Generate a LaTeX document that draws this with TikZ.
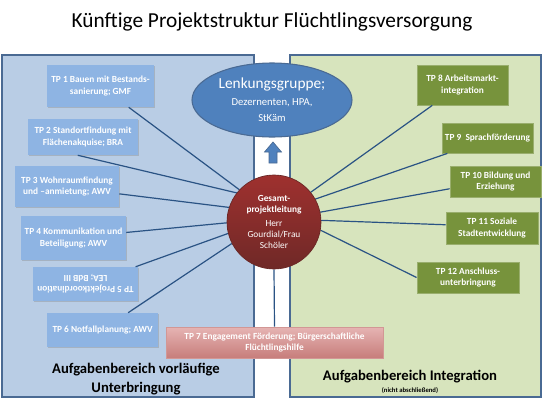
\documentclass[tikz,border=0pt]{standalone}
\usepackage{fontspec}
\setmainfont{Carlito}
\usetikzlibrary{shapes.geometric,shadows}
\definecolor{panelblue}{HTML}{B9CDE5}
\definecolor{panelgreen}{HTML}{D7E4BD}
\definecolor{paneledge}{HTML}{4A6A93}
\definecolor{boxblue}{HTML}{8EB4E3}
\definecolor{boxgreen}{HTML}{77933C}
\definecolor{linkblue}{HTML}{2A5384}
\definecolor{lenkblue}{HTML}{4F81BD}
\definecolor{leitred}{HTML}{943634}
\definecolor{engtop}{HTML}{E6B4B3}
\definecolor{engbot}{HTML}{C77D7B}

\begin{document}
\begin{tikzpicture}[x=0.75pt,y=-0.75pt,
  tpsize/.style 2 args={minimum width=#1*0.75pt,minimum height=#2*0.75pt},
  tpbox/.style={text=white,font=\fontsize{7}{8.4}\selectfont\bfseries,align=center,inner sep=1pt},
  tpleft/.style={tpbox,fill=boxblue,drop shadow={opacity=0.35,shadow xshift=0.4pt,shadow yshift=-0.9pt}},
  tpright/.style={tpbox,fill=boxgreen,draw=boxgreen!75!white,line width=0.6pt},
  link/.style={draw=linkblue,line width=0.9pt}]
\useasboundingbox (0,0) rectangle (543,400);

% Title
\node[font=\fontsize{16}{19}\selectfont] (title) at (272,22) {Künftige Projektstruktur Flüchtlingsversorgung};

% Panels (task areas)
\draw[fill=panelblue,draw=paneledge,line width=0.8pt] (2,55) rectangle (254,397);
\draw[fill=panelgreen,draw=paneledge,line width=0.8pt] (290,55) rectangle (541,397);

% Left boxes (Unterbringung)
\node[tpleft,tpsize={107}{42}] (tp1) at (100.5,86) {TP 1 Bauen mit Bestands-\\sanierung; GMF};
\node[tpleft,tpsize={110}{36}] (tp2) at (83,137) {TP 2 Standortfindung mit\\Flächenakquise; BRA};
\node[tpleft,tpsize={104}{41}] (tp3) at (67,186.5) {TP 3 Wohnraumfindung\\und –anmietung; AWV};
\node[tpleft,tpsize={105}{44}] (tp4) at (73.5,238) {TP 4 Kommunikation und\\Beteiligung; AWV};
\node[tpleft,tpsize={105}{34},rotate=180] (tp5) at (85.5,284) {TP 5 Projektkoordination\\LEA; BdB III};
\node[tpleft,tpsize={111}{34}] (tp6) at (102.5,330) {TP 6 Notfallplanung; AWV};

% Right boxes (Integration)
\node[tpright,tpsize={91}{40}] (tp8) at (462.5,85) {TP 8 Arbeitsmarkt-\\integration};
\node[tpright,tpsize={91}{30}] (tp9) at (487.5,138) {TP 9\ \ Sprachförderung};
\node[tpright,tpsize={91}{31}] (tp10) at (495.5,181.5) {TP 10 Bildung und\\Erziehung};
\node[tpright,tpsize={92}{32}] (tp11) at (492,228) {TP 11 Soziale\\Stadtentwicklung};
\node[tpright,tpsize={102}{31}] (tp12) at (468,277.5) {TP 12 Anschluss-\\unterbringung};

% TP 7 across both areas
\node[tpbox,tpsize={217}{31},top color=engtop,bottom color=engbot,draw=engbot!80!white] (tp7) at (274.5,342.5)
  {TP 7 Engagement Förderung; Bürgerschaftliche\\Flüchtlingshilfe};

% Steering group and arrow
\node[ellipse,fill=lenkblue,draw=paneledge,line width=0.8pt,text=white,align=center,inner sep=0pt,
  minimum width=120pt,minimum height=55.5pt] (lenkung) at (272,100)
  {{\fontsize{11.5}{13}\selectfont Lenkungsgruppe;}\\[1pt]{\fontsize{8}{10}\selectfont Dezernenten, HPA,}\\{\fontsize{8}{10}\selectfont StKäm}};
\draw[fill=lenkblue,draw=paneledge,line width=0.5pt]
  (269,163) -- (269,152) -- (264.5,152) -- (273,142) -- (281.5,152) -- (277,152) -- (277,163) -- cycle;

% Project lead
\node[circle,minimum size=70.5pt,inner sep=0pt] (leitung) at (274,222) {};

% Connectors
\draw[link] (leitung.137) -- (tp1.-37);
\draw[link] (leitung.142) -- (tp2.-106);
\draw[link] (leitung.162) -- (tp3.-8);
\draw[link] (leitung.181) -- (tp4.6);
\draw[link] (leitung.194) -- (tp5.199);
\draw[link] (leitung.207) -- (tp6.34);
\draw[link] (leitung.39) -- (tp8.-146);
\draw[link] (leitung.29) -- (tp9.-159);
\draw[link] (leitung.12) -- (tp10.-171);
\draw[link] (leitung.2) -- (tp11.176);
\draw[link] (leitung.-10) -- (tp12.west);
\draw[link] (leitung.south) -- (tp7.north);

\node[circle,minimum size=70.5pt,inner sep=0pt,top color=leitred!90!red,bottom color=leitred!75!black,
  draw=leitred!70!black,line width=0.5pt,text=white,align=center,font=\fontsize{7}{8.3}\selectfont]
  (leitbox) at (leitung) {\textbf{Gesamt-}\\\textbf{projektleitung}\\[2pt]Herr\\Gourdial/Frau\\Schöler};

% Area labels
\node[font=\fontsize{11}{14}\selectfont\bfseries,align=center] (lefttitle) at (136,379) {Aufgabenbereich vorläufige\\Unterbringung};
\node[font=\fontsize{11}{13}\selectfont\bfseries] (righttitle) at (410,377) {Aufgabenbereich Integration};
\node[font=\fontsize{5}{6}\selectfont\bfseries] (rightnote) at (410,391) {(nicht abschließend)};
\end{tikzpicture}
\end{document}
